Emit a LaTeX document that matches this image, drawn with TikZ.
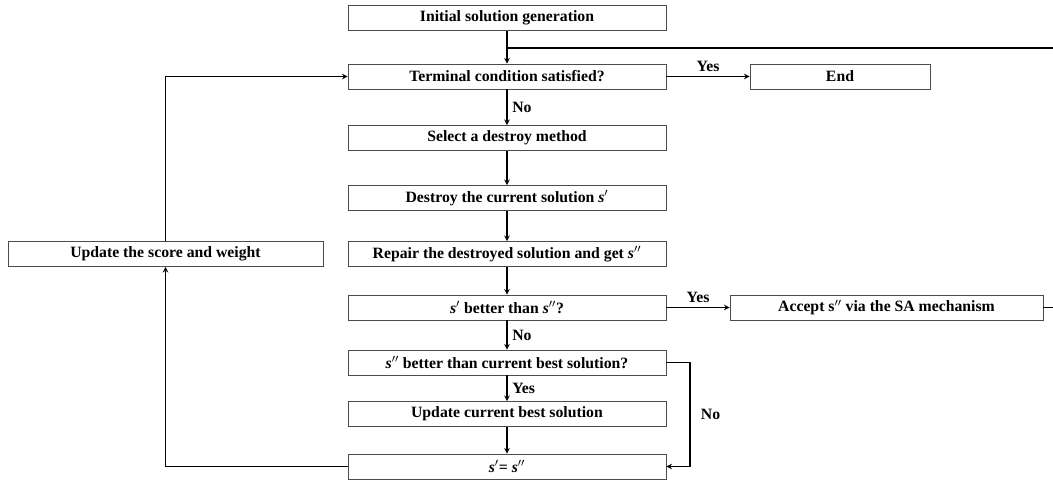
\documentclass[tikz,border=0pt]{standalone}
\usepackage{fontspec}
\setmainfont{Liberation Serif}
\newcommand{\sone}{\textit{s}$'$}
\newcommand{\stwo}{\textit{s}$''$}
\begin{document}
\begin{tikzpicture}[x=0.025cm, y=-0.025cm, >=stealth,
  box/.style={draw=black!70, line width=0.5pt, minimum height=0.625cm, inner sep=0pt, font=\bfseries\fontsize{11.2}{13}\selectfont},
  mainbox/.style={box, minimum width=7.95cm},
  lbl/.style={font=\bfseries\fontsize{11.2}{13}\selectfont},
  line/.style={line width=0.8pt}]
\useasboundingbox (0,0) rectangle (1053,480);
\node[mainbox] (init) at (507,18) {Initial solution generation};
\node[mainbox] (term) at (507,76.5) {Terminal condition satisfied?};
\node[box, minimum width=4.5cm] (end) at (840,76.5) {End};
\node[mainbox] (select) at (507,138) {Select a destroy method};
\node[mainbox] (destroy) at (507,198) {Destroy the current solution \sone};
\node[mainbox] (repair) at (507,254) {Repair the destroyed solution and get \stwo};
\node[mainbox] (cmp) at (507,307.5) {\sone\ better than \stwo?};
\node[box, minimum width=7.825cm] (accept) at (886.5,307.5) {Accept s$''$ via the SA mechanism};
\node[mainbox] (best) at (507,362.5) {\stwo\ better than current best solution?};
\node[mainbox] (upbest) at (507,414) {Update current best solution};
\node[mainbox] (assign) at (507,466.5) {\sone= \stwo};
\node[box, minimum width=7.875cm] (score) at (165.5,254) {Update the score and weight};
\coordinate (tr) at (1053,48);
\coordinate (ar) at (1053,307.5);
% main column
\draw[line,->] (init) -- (term);
\draw[line] (init.south |- tr) -- (tr);
\draw[line] (accept) -- (ar);
\draw[line,->] (term) -- (end) node[lbl, midway, above] {Yes};
\draw[line,->] (term) -- (select) node[lbl, midway, right] {No};
\draw[line,->] (select) -- (destroy);
\draw[line,->] (destroy) -- (repair);
\draw[line,->] (repair) -- (cmp);
\draw[line,->] (cmp) -- (accept) node[lbl, midway, above] {Yes};
\draw[line,->] (cmp) -- (best) node[lbl, midway, right] {No};
\draw[line,->] (best) -- (upbest) node[lbl, midway, right] {Yes};
\draw[line,->] (upbest) -- (assign);
% loops
\draw[line,->] (best.east) -- (690,362.5) -- node[lbl, right=4pt] {No} (690,466.5) -- (assign.east);
\draw[line,->] (assign.west) -- (score.south |- assign.west) -- (score.south);
\draw[line,->] (score.north) -- (score.north |- term.west) -- (term.west);
\end{tikzpicture}
\end{document}
